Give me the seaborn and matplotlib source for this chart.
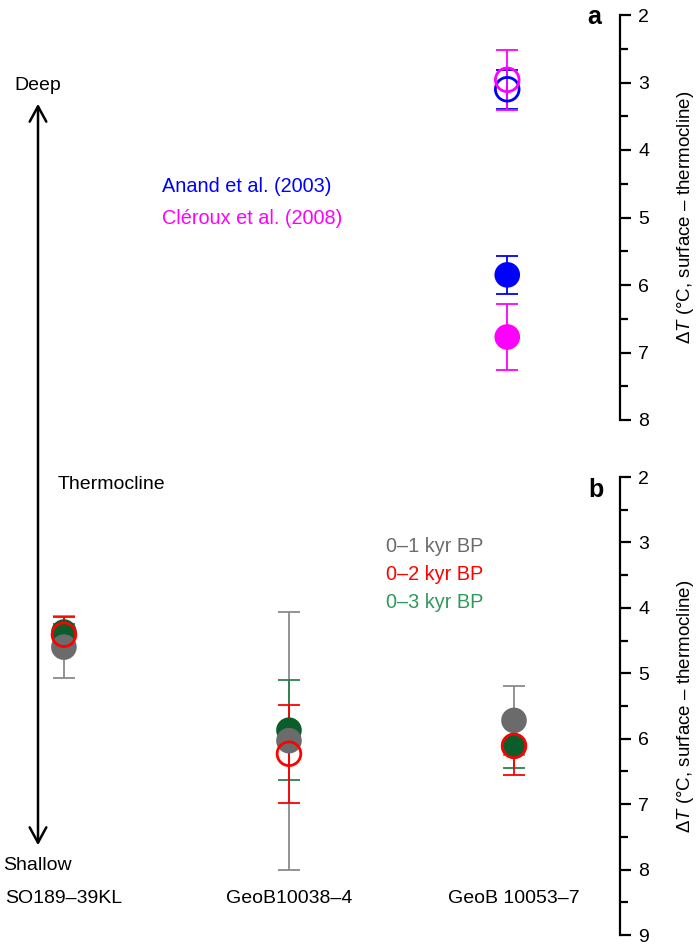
import numpy as np
import pandas as pd
import matplotlib
matplotlib.use('Agg')
import matplotlib.pyplot as plt
from matplotlib.patches import FancyArrowPatch
from matplotlib.ticker import MultipleLocator
import seaborn as sns

sns.set_theme(style='white')
plt.rcParams['font.family'] = ['Liberation Sans', 'DejaVu Sans']
plt.rcParams['mathtext.fontset'] = 'custom'
plt.rcParams['mathtext.rm'] = 'Liberation Sans'
plt.rcParams['mathtext.it'] = 'Liberation Sans:italic'
plt.rcParams['text.color'] = 'black'
plt.rcParams['ytick.color'] = 'black'
plt.rcParams['xtick.color'] = 'black'

# ---- data -------------------------------------------------------------
sites = ['SO189–39KL', 'GeoB10038–4', 'GeoB 10053–7']

# panel a: GeoB 10053-7, open and filled symbols for each calibration
anand_open, anand_open_err = 3.10, 0.29
anand_fill, anand_fill_err = 5.85, 0.28
cleroux_open, cleroux_open_err = 2.96, 0.44
cleroux_fill, cleroux_fill_err = 6.77, 0.49

# panel b: three time windows per site
kyr1 = [4.60, 6.03, 5.72]
kyr1_err = [0.47, 1.97, 0.53]
kyr2 = [4.41, 6.23, 6.11]
kyr2_err = [0.27, 0.75, 0.45]
kyr3 = [4.37, 5.87, 6.11]
kyr3_err = [0.12, 0.76, 0.34]

GRAY, GRAY_BAR = '#6b6b6b', '#8a8a8a'
RED = '#ff0000'
GREEN, GREEN_BAR, GREEN_TXT = '#0b5e2c', '#2f7f4f', '#2e9a5a'
BLUE, MAGENTA = '#0000ff', '#ff00ff'

W, H = 700, 951
fig = plt.figure(figsize=(W / 100, H / 100), dpi=100)


def px_rect(x0, y0, x1, y1):
    return [x0 / W, 1 - y1 / H, (x1 - x0) / W, (y1 - y0) / H]


ax_a = fig.add_axes(px_rect(0, 15, 620, 420))
ax_b = fig.add_axes(px_rect(0, 477, 620, 935))

FILL_S, OPEN_S = 340, 290
CAP = 8


def errbar(ax, x, y, e, c):
    ax.errorbar(x, y, yerr=e, fmt='none', ecolor=c, elinewidth=1.3,
                capsize=CAP, capthick=1.3, zorder=2)


def dots(ax, x, y, c, filled=True):
    d = pd.DataFrame({'x': np.atleast_1d(x), 'y': np.atleast_1d(y)})
    if filled:
        sns.scatterplot(data=d, x='x', y='y', ax=ax, s=FILL_S, color=c,
                        edgecolor='none', linewidth=0, zorder=3, legend=False)
    else:
        sns.scatterplot(data=d, x='x', y='y', ax=ax, s=OPEN_S, facecolor='none',
                        edgecolor=c, linewidth=2, zorder=4, legend=False)


# ---- panel a ----------------------------------------------------------
xa = sites.index('GeoB 10053–7') - 0.03
errbar(ax_a, xa, anand_open, anand_open_err, BLUE)
errbar(ax_a, xa, cleroux_open, cleroux_open_err, MAGENTA)
errbar(ax_a, xa, anand_fill, anand_fill_err, BLUE)
errbar(ax_a, xa, cleroux_fill, cleroux_fill_err, MAGENTA)
dots(ax_a, xa, anand_fill, BLUE)
dots(ax_a, xa, cleroux_fill, MAGENTA)
dots(ax_a, xa, anand_open, BLUE, filled=False)
dots(ax_a, xa, cleroux_open, MAGENTA, filled=False)

# ---- panel b ----------------------------------------------------------
xb = np.arange(len(sites))
errbar(ax_b, xb, kyr1, kyr1_err, GRAY_BAR)
errbar(ax_b, xb, kyr3, kyr3_err, GREEN_BAR)
errbar(ax_b, xb, kyr2, kyr2_err, RED)
dots(ax_b, xb, kyr3, GREEN)
dots(ax_b, xb, kyr1, GRAY)
dots(ax_b, xb, kyr2, RED, filled=False)

# ---- axes styling -----------------------------------------------------
for ax, ymax in [(ax_a, 8), (ax_b, 9)]:
    ax.set_xlim(-0.284, 2.471)
    ax.set_ylim(ymax, 2)
    ax.patch.set_alpha(0)
    for s in ['left', 'top', 'bottom']:
        ax.spines[s].set_visible(False)
    ax.spines['right'].set_linewidth(1.6)
    ax.spines['right'].set_color('black')
    ax.yaxis.tick_right()
    ax.yaxis.set_major_locator(MultipleLocator(1))
    ax.yaxis.set_minor_locator(MultipleLocator(0.5))
    ax.tick_params(axis='y', which='major', direction='out', length=8, width=1.6,
                   color='black', labelcolor='black', labelsize=14, pad=5,
                   right=True, left=False)
    ax.tick_params(axis='y', which='minor', direction='out', length=6, width=1.6,
                   color='black', right=True, left=False)
    ax.set_xticks([])
    ax.set_xlabel('')
    ax.set_ylabel('')

ylab = r'$\Delta\mathit{T}$ (°C, surface – thermocline)'
fig.text(686 / W, 1 - 217 / H, ylab, rotation=90, ha='center', va='center', fontsize=13.5)
fig.text(686 / W, 1 - 706 / H, ylab, rotation=90, ha='center', va='center', fontsize=13.5)

fig.text(594 / W, 1 - 17 / H, 'a', fontsize=18, fontweight='bold', ha='center', va='center')
fig.text(596 / W, 1 - 490 / H, 'b', fontsize=18, fontweight='bold', ha='center', va='center')

# site names
for i, s in enumerate(sites):
    ax_b.text(i, 8.44, s, ha='center', va='center', fontsize=14)

# legends as coloured text
fig.text(162 / W, 1 - 187 / H, 'Anand et al. (2003)', color=BLUE, fontsize=14.3, va='center')
fig.text(162 / W, 1 - 219 / H, 'Cléroux et al. (2008)', color=MAGENTA, fontsize=14.3, va='center')
fig.text(386 / W, 1 - 547 / H, '0–1 kyr BP', color=GRAY, fontsize=14.3, va='center')
fig.text(386 / W, 1 - 574 / H, '0–2 kyr BP', color=RED, fontsize=14.3, va='center')
fig.text(386 / W, 1 - 602 / H, '0–3 kyr BP', color=GREEN_TXT, fontsize=14.3, va='center')

# deep / shallow arrow
arrow = FancyArrowPatch((38 / W, 1 - 848 / H), (38 / W, 1 - 101 / H),
                        transform=fig.transFigure, arrowstyle='<->,head_length=0.55,head_width=0.3',
                        mutation_scale=20, lw=1.8, color='black')
fig.add_artist(arrow)
fig.text(38 / W, 1 - 85 / H, 'Deep', fontsize=14, ha='center', va='center')
fig.text(37 / W, 1 - 865 / H, 'Shallow', fontsize=14, ha='center', va='center')
fig.text(58 / W, 1 - 484 / H, 'Thermocline', fontsize=14, ha='left', va='center')

fig.savefig('out.png', dpi=100)
